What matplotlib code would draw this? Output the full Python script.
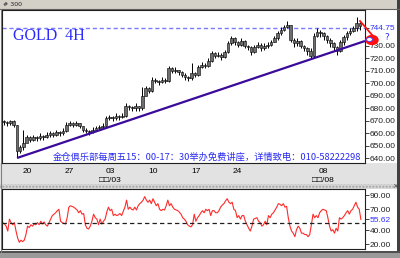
import numpy as np
import matplotlib
matplotlib.use('Agg')
import matplotlib.pyplot as plt
from matplotlib.patches import Rectangle, Ellipse
from matplotlib.lines import Line2D

# 4H gold candles (one candle per two RSI bars)
close = [669, 668, 670, 667, 646, 649, 652, 657, 655, 657,
         656, 658, 657, 659, 660, 659, 661, 660, 662, 667,
         668, 667, 668, 666, 663, 662, 661, 663, 664, 665,
         666, 672, 673, 672, 674, 673, 674, 682, 681, 680,
         682, 680, 690, 696, 694, 703, 702, 701, 703, 702,
         712, 710, 711, 709, 707, 705, 704, 708, 707, 713,
         715, 714, 718, 724, 722, 723, 721, 725, 732, 736,
         733, 731, 734, 730, 729, 725, 729, 731, 728, 730,
         731, 733, 736, 740, 743, 745, 747, 735, 732, 734,
         730, 728, 726, 722, 738, 741, 740, 738, 735, 732,
         729, 726, 733, 737, 740, 742, 744, 748, 746]
high = [671, 670, 671, 671, 667, 651, 663, 659, 658, 659,
        658, 660, 659, 661, 662, 661, 663, 662, 664, 669,
        670, 669, 670, 668, 666, 664, 663, 665, 666, 667,
        668, 674, 675, 674, 676, 675, 676, 684, 683, 682,
        684, 682, 697, 698, 697, 705, 704, 703, 705, 704,
        714, 713, 713, 711, 710, 708, 706, 716, 709, 715,
        717, 716, 720, 726, 725, 725, 724, 727, 734, 738,
        737, 734, 736, 735, 731, 730, 731, 733, 732, 732,
        733, 735, 738, 742, 745, 747, 750, 747, 736, 736,
        735, 731, 729, 728, 740, 744, 743, 741, 739, 736,
        733, 730, 735, 739, 742, 744, 746, 753, 749]
low = [667, 666, 667, 665, 641, 644, 647, 654, 653, 654,
       654, 655, 655, 656, 657, 657, 658, 658, 659, 661,
       666, 665, 666, 664, 661, 660, 659, 660, 662, 663,
       664, 665, 671, 670, 671, 671, 672, 673, 679, 678,
       678, 678, 679, 693, 692, 693, 700, 699, 700, 700,
       701, 708, 708, 707, 705, 703, 702, 703, 705, 706,
       712, 712, 713, 717, 720, 721, 719, 720, 724, 731,
       731, 729, 730, 728, 727, 723, 724, 728, 726, 727,
       728, 730, 733, 735, 739, 742, 744, 733, 729, 730,
       728, 726, 723, 720, 721, 737, 737, 735, 732, 729,
       726, 723, 725, 731, 735, 739, 741, 742, 743]
first_open = 670

rsi = [51, 49, 46, 39, 56, 51, 48, 51, 39, 29,
       23, 26, 24, 26, 34, 46, 44, 48, 46, 49,
       48, 51, 48, 53, 49, 52, 48, 46, 51, 56,
       61, 63, 65, 68, 70, 53, 51, 50, 49, 58,
       73, 75, 74, 73, 71, 69, 65, 68, 63, 64,
       48, 43, 42, 46, 53, 63, 58, 56, 48, 56,
       49, 53, 56, 66, 73, 68, 70, 61, 63, 61,
       62, 64, 61, 67, 73, 83, 70, 73, 70, 69,
       73, 69, 75, 78, 80, 83, 88, 83, 80, 83,
       78, 85, 80, 75, 78, 70, 68, 70, 69, 75,
       83, 75, 78, 73, 70, 69, 68, 66, 63, 58,
       56, 53, 48, 46, 45, 48, 63, 53, 58, 61,
       65, 68, 65, 70, 68, 70, 61, 68, 68, 65,
       65, 68, 73, 76, 78, 82, 85, 80, 78, 80,
       70, 68, 58, 61, 56, 61, 61, 53, 48, 43,
       39, 46, 56, 57, 58, 53, 51, 46, 48, 53,
       48, 61, 58, 63, 65, 69, 73, 78, 77, 75,
       78, 73, 74, 58, 46, 39, 36, 31, 41, 46,
       43, 36, 36, 34, 34, 31, 34, 48, 63, 58,
       61, 58, 65, 68, 70, 69, 68, 58, 46, 39,
       41, 36, 43, 39, 58, 56, 58, 61, 65, 68,
       63, 68, 70, 75, 80, 73, 70, 55.62]

date_pos = [15, 40, 65, 91, 117, 142, 194]
date_labels = ['20', '27', '03\n\u25a1\u25a1/03', '10', '17', '24', '08\n\u25a1\u25a1/08']
price_ticks = [640, 650, 660, 670, 680, 690, 700, 710, 720, 730]
rsi_ticks = [20, 40, 70, 90]
resist = 744.75
trend_x = [8.6, 219.5]
trend_y = [640.4, 734.0]
rsi_mid = 50

W, H = 400, 258
fig = plt.figure(figsize=(W / 100, H / 100), dpi=100)
fig.patch.set_facecolor('white')
lab_font = ['Liberation Sans', 'DejaVu Sans']
lab_size = 6.0


def fx(x):
    return x / W


def fy(y):
    return 1 - y / H


# window chrome
fig.patches.append(Rectangle((0, fy(9)), 1, 9 / H, transform=fig.transFigure,
                             facecolor='#d4d0c8', edgecolor='none', zorder=0))
fig.add_artist(Line2D([0, 1], [fy(9), fy(9)], color='#606060', lw=0.8))
fig.text(fx(3), fy(4.5), '# 300', fontsize=4.5, va='center', ha='left', color='#202020')
fig.patches.append(Rectangle((0, fy(184)), fx(397), 21 / H, transform=fig.transFigure,
                             facecolor='#e2e2e2', edgecolor='none', zorder=0))
fig.patches.append(Rectangle((0, fy(189)), fx(397), 5 / H, transform=fig.transFigure,
                             facecolor='#d8d8d8', edgecolor='#a0a0a0', hatch='.....',
                             lw=0, zorder=0))
fig.text(fx(395), fy(186.5), '\u00d7', fontsize=5, ha='center', va='center', color='#404040')
fig.patches.append(Rectangle((fx(397), 0), 3 / W, 1, transform=fig.transFigure,
                             facecolor='#404040', edgecolor='none', zorder=0))
fig.patches.append(Rectangle((0, 0), 1, 7 / H, transform=fig.transFigure,
                             facecolor='#9a9a9a', edgecolor='none', zorder=0))
fig.add_artist(Line2D([0, 1], [fy(252), fy(252)], color='#404040', lw=1.2))
fig.add_artist(Line2D([fx(0.8), fx(0.8)], [fy(252), fy(9)], color='#808080', lw=0.8))

# main price panel
ax = fig.add_axes([fx(2), fy(163), fx(363), (163 - 10) / H])
ax.set_zorder(2)
ax.set_xlim(-0.5, 219.5)
ax.set_ylim(636.4, 758.8)
n = len(close)
xc = np.arange(n) * 2 + 0.5
opens = np.array([first_open] + close[:-1])
cl = np.array(close)
ax.vlines(xc, low, high, color='black', lw=0.7, zorder=3)
ax.bar(xc, np.maximum(np.abs(cl - opens), 0.6), bottom=np.minimum(cl, opens), width=1.6,
       facecolor='#6e6e6e', edgecolor='black', lw=0.4, zorder=4)
ax.axhline(resist, color='#7a7aff', lw=1.0, ls=(0, (3, 2)), zorder=2)
ax.plot(trend_x, trend_y, color='#3a0a9a', lw=1.6, zorder=5, solid_capstyle='butt')

ax.yaxis.tick_right()
ax.set_yticks(price_ticks + [resist])
ax.set_yticklabels(['%.2f' % v for v in price_ticks] + ['%.2f' % resist],
                   fontfamily=lab_font, fontsize=lab_size)
ax.tick_params(axis='y', length=3, width=0.6, pad=0.5, colors='#202020')
ax.get_yticklabels()[-1].set_color('#3030ff')
ax.set_xticks(date_pos)
ax.set_xticklabels(date_labels, fontfamily=lab_font, fontsize=lab_size, linespacing=1.45)
ax.tick_params(axis='x', length=0, pad=3.5)
for s in ax.spines.values():
    s.set_linewidth(0.8)
    s.set_color('#202020')

ax.text(0.03, 0.83, 'GOLD  4H', transform=ax.transAxes, fontfamily='Liberation Serif',
        fontsize=11.5, color='#2a2aff', va='center', ha='left')
ax.text((53 - 2) / 363, 0.04,
        '金仓俱乐部每周五15：00-17：30举办免费讲座，详情致电：010-58222298',
        transform=ax.transAxes, fontfamily=['Noto Sans CJK SC', 'DejaVu Sans'],
        fontsize=6.7, color='#2a2af0', va='center', ha='left', zorder=6)

# lower RSI panel
ax2 = fig.add_axes([fx(2), fy(249), fx(363), 60 / H])
ax2.set_zorder(2)
ax2.set_xlim(-0.5, 219.5)
ax2.set_ylim(13.5, 98.8)
ax2.plot(np.arange(len(rsi)), rsi, color='#ff2a2a', lw=0.8)
ax2.axhline(rsi_mid, color='#202020', lw=0.9, ls=(0, (3.5, 2.5)))
ax2.set_xticks([])
ax2.yaxis.tick_right()
ax2.set_yticks(rsi_ticks + [rsi[-1]])
ax2.set_yticklabels(['%.2f' % v for v in rsi_ticks] + ['%.2f' % rsi[-1]],
                    fontfamily=lab_font, fontsize=lab_size)
ax2.tick_params(axis='y', length=3, width=0.6, pad=0.5, colors='#202020')
ax2.get_yticklabels()[-1].set_color('#3030ff')
for s in ax2.spines.values():
    s.set_linewidth(0.8)
    s.set_color('#202020')

# red hand-drawn mark near the trend line end
fig.add_artist(Line2D([fx(360), fx(373)], [fy(21), fy(36)], color='#ff1010', lw=1.3, zorder=10))
fig.patches.append(Ellipse((fx(372), fy(40)), 12 / W, 9 / H, transform=fig.transFigure,
                           facecolor='#ff1010', edgecolor='#ff1010', zorder=10))
fig.patches.append(Ellipse((fx(369.5), fy(39.5)), 6 / W, 4 / H, transform=fig.transFigure,
                           facecolor='white', edgecolor='#4040ff', lw=0.6, zorder=11))
fig.text(fx(387), fy(38), '?', fontsize=6.5, color='#3030ff', ha='center', va='center',
         zorder=11)

fig.savefig('out.png', dpi=100, facecolor=fig.get_facecolor())
